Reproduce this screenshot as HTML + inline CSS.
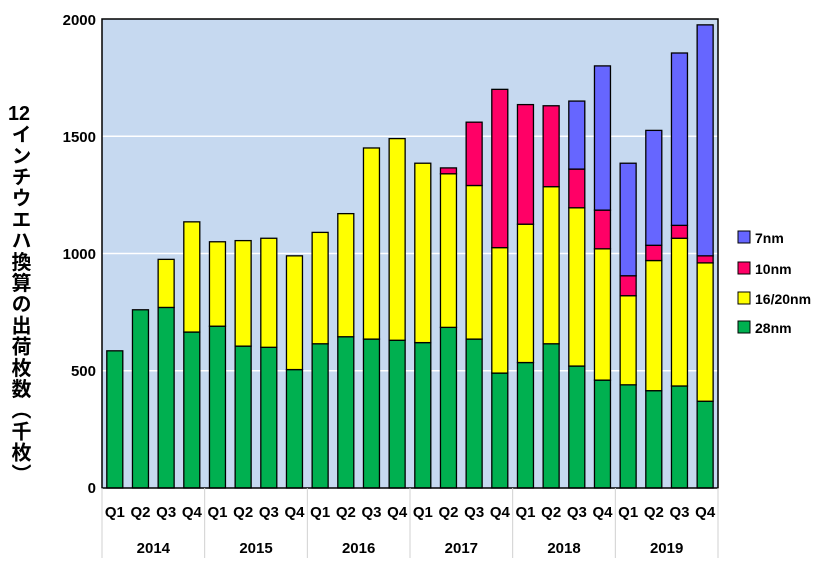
<!DOCTYPE html>
<html><head><meta charset="utf-8"><style>
body{margin:0;background:#fff;width:834px;height:566px;overflow:hidden;position:relative;font-family:"Liberation Sans",Arial,sans-serif}
.yl{position:absolute;left:4px;top:104px;writing-mode:vertical-rl;font-family:"Liberation Sans","Noto Sans CJK JP",sans-serif;font-weight:bold;font-size:20px;line-height:30px;letter-spacing:1.2px;color:#000}
.tcu{text-combine-upright:all}
</style></head><body>
<svg width="834" height="566" style="position:absolute;left:0;top:0" font-family="Liberation Sans, Arial, sans-serif" font-weight="bold">
<rect x="102" y="19" width="616" height="469" fill="#c6d9f0"/>
<g stroke="#fff" stroke-width="1.5">
<line x1="102" x2="718" y1="370.75" y2="370.75"/>
<line x1="102" x2="718" y1="253.5" y2="253.5"/>
<line x1="102" x2="718" y1="136.25" y2="136.25"/>
</g>
<g id="bars" stroke="#000" stroke-width="1.3"></g>
<rect x="102" y="19" width="616" height="469" fill="none" stroke="#000" stroke-width="1.5"/>
<g font-size="15" text-anchor="end" fill="#000">
<text x="96" y="493">0</text><text x="96" y="376">500</text><text x="96" y="259">1000</text><text x="96" y="142">1500</text><text x="96" y="25">2000</text>
</g>
<g id="xl" font-size="15" text-anchor="middle" fill="#000"></g>
<g stroke="#d0d0d0" stroke-width="1" id="sep"></g>
<g font-size="14">
<rect x="738" y="231" width="12" height="12" fill="#6666ff" stroke="#000"/><text x="755" y="243">7nm</text>
<rect x="738" y="262" width="12" height="12" fill="#ff0066" stroke="#000"/><text x="755" y="274">10nm</text>
<rect x="738" y="292" width="12" height="12" fill="#ffff00" stroke="#000"/><text x="755" y="304">16/20nm</text>
<rect x="738" y="321" width="12" height="12" fill="#00b050" stroke="#000"/><text x="755" y="333">28nm</text>
</g>
</svg>
<div class="yl"><span class="tcu">12</span>インチウエハ換算の出荷枚数（千枚）</div>
<script>
var d=[[585],[760],[770,975],[665,1135],[690,1050],[605,1055],[600,1065],[505,990],[615,1090],[645,1170],[635,1450],[630,1490],[620,1385],[685,1340,1365],[635,1290,1560],[490,1025,1700],[535,1125,1635],[615,1285,1630],[520,1195,1360,1650],[460,1020,1185,1800],[440,820,905,1385],[415,970,1035,1525],[435,1065,1120,1855],[370,960,990,1975]];
var c=["#00b050","#ffff00","#ff0066","#6666ff"];
var ns="http://www.w3.org/2000/svg",g=document.getElementById("bars"),xl=document.getElementById("xl"),sep=document.getElementById("sep");
var Y=function(v){return 488-v*0.2345};
var p=616/24;
d.forEach(function(a,i){var x=102+p*i+4.8,prev=0;
a.forEach(function(v,j){var r=document.createElementNS(ns,"rect");r.setAttribute("x",x);r.setAttribute("width",16);r.setAttribute("y",Y(v));r.setAttribute("height",Y(prev)-Y(v));r.setAttribute("fill",c[j]);g.appendChild(r);prev=v;});
var t=document.createElementNS(ns,"text");t.setAttribute("x",102+p*i+p/2);t.setAttribute("y",517);t.textContent="Q"+(i%4+1);xl.appendChild(t);});
for(var k=0;k<6;k++){var t=document.createElementNS(ns,"text");t.setAttribute("x",102+p*4*k+p*2);t.setAttribute("y",553);t.textContent=2014+k;xl.appendChild(t);}
for(var k=0;k<=6;k++){var l=document.createElementNS(ns,"line");var x=102+p*4*k;l.setAttribute("x1",x);l.setAttribute("x2",x);l.setAttribute("y1",488);l.setAttribute("y2",558);sep.appendChild(l);}
</script>
</body></html>
